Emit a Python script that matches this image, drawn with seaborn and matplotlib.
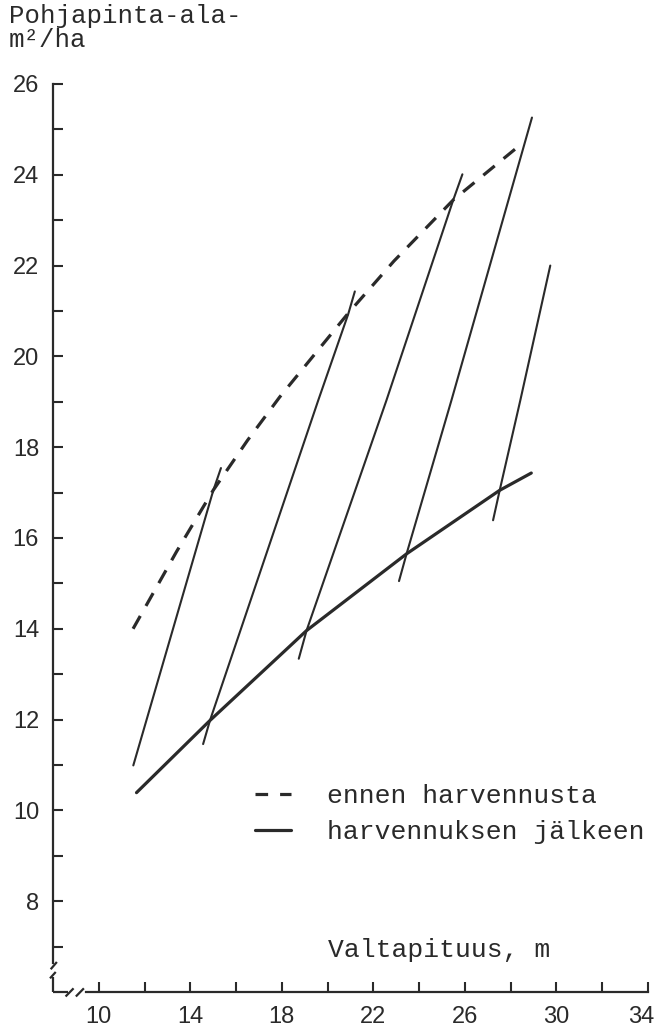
import matplotlib
matplotlib.use("Agg")
import matplotlib.pyplot as plt
from matplotlib.lines import Line2D
from matplotlib.ticker import FixedLocator
from matplotlib.transforms import ScaledTranslation
import seaborn as sns

# Basal area (m2/ha) against dominant height (m)
before_x = [11.5, 13.4, 15.0, 16.5, 17.9, 20.9, 22.9, 25.5, 28.4]
before_y = [14.0, 15.7, 17.05, 18.15, 19.1, 20.95, 22.1, 23.45, 24.65]

after_x = [11.65, 14.86, 17.91, 19.08, 23.45, 27.52, 28.9]
after_y = [10.39, 11.98, 13.41, 13.96, 15.65, 17.05, 17.43]

# Growth paths between thinnings
path1_x = [11.51, 15.0, 15.34]
path1_y = [10.99, 17.04, 17.54]
path2_x = [14.56, 14.86, 19.59, 20.9, 21.19]
path2_y = [11.46, 11.98, 19.03, 20.93, 21.43]
path3_x = [18.74, 19.08, 22.57, 25.48, 25.89]
path3_y = [13.34, 13.96, 19.03, 23.43, 24.01]
path4_x = [23.12, 23.45, 25.41, 28.93]
path4_y = [15.05, 15.65, 19.03, 25.26]
path5_x = [27.23, 27.52, 28.42, 29.73]
path5_y = [16.39, 17.05, 19.03, 22.0]

y_ticks = [8, 10, 12, 14, 16, 18, 20, 22, 24, 26]
x_ticks = [10, 14, 18, 22, 26, 30, 34]

sns.set_theme(style="white")
plt.rcParams["font.family"] = ["Liberation Sans", "DejaVu Sans"]
INK = "#2a2a2a"
MONO = ["Liberation Mono", "DejaVu Sans Mono"]

fig = plt.figure(figsize=(6.59, 10.29), dpi=100)
ax = fig.add_axes([0.0804, 0.0360, 0.9029, 0.8824])
ax.set_facecolor("white")

paths = [(path1_x, path1_y), (path2_x, path2_y), (path3_x, path3_y),
         (path4_x, path4_y), (path5_x, path5_y)]
for px, py in paths:
    sns.lineplot(x=px, y=py, ax=ax, color=INK, lw=1.5, sort=False,
                 estimator=None)

sns.lineplot(x=before_x, y=before_y, ax=ax, color=INK, lw=2.3, sort=False,
             estimator=None)
ax.lines[-1].set_dashes((4.6, 3.6))
sns.lineplot(x=after_x, y=after_y, ax=ax, color=INK, lw=2.3, sort=False,
             estimator=None)

ax.set_xlim(8, 34)
ax.set_ylim(6, 26)

# Axes: only left and bottom, with breaks near the origin
for side in ("top", "right"):
    ax.spines[side].set_visible(False)
for side in ("left", "bottom"):
    ax.spines[side].set_color(INK)
    ax.spines[side].set_linewidth(1.6)
ax.spines["left"].set_bounds(6.64, 26)
ax.spines["bottom"].set_bounds(9.45, 34)

brk = dict(color=INK, lw=1.6, clip_on=False, solid_capstyle="butt")
ax.plot([8, 8], [6, 6.33], **brk)
ax.plot([8, 8.64], [6, 6], **brk)
ax.plot([7.9, 8.17], [6.5, 6.66], **brk)
ax.plot([7.87, 8.12], [6.3, 6.44], **brk)
ax.plot([8.55, 8.9], [5.9, 6.08], **brk)
ax.plot([9.0, 9.35], [5.9, 6.08], **brk)

ax.yaxis.set_major_locator(FixedLocator(y_ticks))
ax.xaxis.set_major_locator(FixedLocator(x_ticks))
ax.yaxis.set_minor_locator(FixedLocator(list(range(7, 26, 2))))
ax.xaxis.set_minor_locator(FixedLocator(list(range(12, 34, 4))))
ax.tick_params(axis="both", which="both", direction="in", length=7.5,
               width=1.5, color=INK, left=True, bottom=True)
ax.tick_params(axis="both", which="major", labelsize=17, labelcolor=INK,
               pad=10)
ax.set_yticklabels([str(v) for v in y_ticks])
ax.set_xticklabels([str(v) for v in x_ticks])

# Pull the last x label slightly inward so it stays on the page
last = ax.xaxis.get_major_ticks()[-1].label1
last.set_transform(last.get_transform()
                   + ScaledTranslation(-7 / 100, 0, fig.dpi_scale_trans))

ax.set_ylabel("Pohjapinta-ala-\nm\u00b2/ha", rotation=0, ha="left", va="top",
              family=MONO, fontsize=18.5, color=INK, linespacing=1.0)
ax.yaxis.set_label_coords(-0.074, 1.088)

ax.set_xlabel("Valtapituus, m", ha="left", va="center", family=MONO,
              fontsize=19, color=INK)
ax.xaxis.set_label_coords(0.462, 0.046)

handles = [
    Line2D([], [], color=INK, lw=2.3, dashes=(3.95, 3.75)),
    Line2D([], [], color=INK, lw=2.3),
]
ax.legend(handles, ["ennen harvennusta", "harvennuksen jälkeen"],
          loc="upper left", bbox_to_anchor=(0.34, 0.229), frameon=False,
          borderpad=0, borderaxespad=0, handlelength=1.35, handletextpad=1.35,
          labelspacing=0.47, prop={"family": MONO, "size": 19},
          labelcolor=INK)

fig.savefig("out.png", dpi=100, facecolor="white")
